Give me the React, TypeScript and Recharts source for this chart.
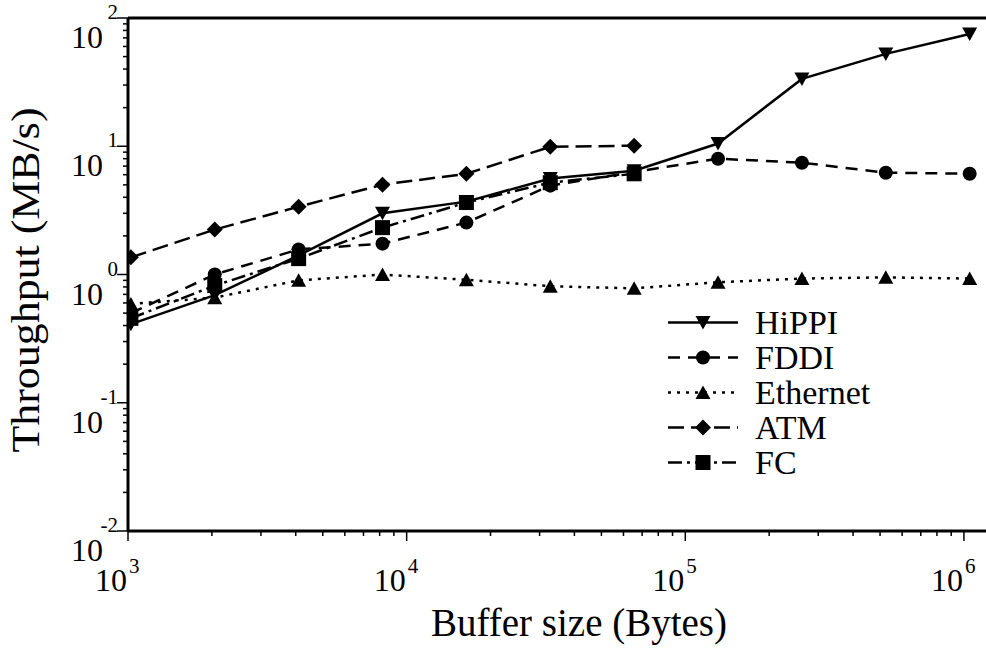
import React from 'react';
import { LineChart, Line, XAxis, YAxis, Legend, ReferenceLine } from 'recharts';

const FONT = '"Liberation Serif", "Times New Roman", serif';

// buffer sizes in bytes
const SIZES = [1024, 2048, 4096, 8192, 16384, 32768, 65536, 131072, 262144, 524288, 1048576];
// throughput in MB/s
const HIPPI = [0.41, 0.69, 1.41, 3.0, 3.7, 5.6, 6.45, 10.5, 33.5, 52.5, 75];
const FDDI = [0.5, 1.0, 1.57, 1.74, 2.54, 4.93, 6.3, 8.0, 7.44, 6.22, 6.1];
const ETHERNET = [0.59, 0.66, 0.9, 1.0, 0.91, 0.81, 0.78, 0.87, 0.93, 0.95, 0.93];
const ATM = [1.36, 2.24, 3.38, 5.02, 6.1, 9.9, 10.1, null, null, null, null];
const FC = [0.455, 0.82, 1.33, 2.32, 3.64, 5.2, 6.1, null, null, null, null];

const X_MAX = 1.2e6;
const X_DECADES = [3, 4, 5, 6];
const Y_DECADES = [-2, -1, 0, 1];

const X_TICKS: number[] = [];
X_DECADES.forEach((d) => {
  for (let m = 1; m <= 9; m++) {
    const v = m * Math.pow(10, d);
    if (v <= X_MAX) X_TICKS.push(v);
  }
});
const Y_TICKS: number[] = [];
Y_DECADES.forEach((d) => {
  for (let m = 1; m <= 9; m++) Y_TICKS.push(m * Math.pow(10, d));
});
Y_TICKS.push(100);

const data = SIZES.map((size, i) => ({
  size,
  hippi: HIPPI[i],
  fddi: FDDI[i],
  ethernet: ETHERNET[i],
  atm: ATM[i],
  fc: FC[i],
}));

type Shape = 'down' | 'circle' | 'up' | 'diamond' | 'square';

const SERIES: { key: string; name: string; shape: Shape; dash?: string }[] = [
  { key: 'hippi', name: 'HiPPI', shape: 'down' },
  { key: 'fddi', name: 'FDDI', shape: 'circle', dash: '12 8' },
  { key: 'ethernet', name: 'Ethernet', shape: 'up', dash: '3 6' },
  { key: 'atm', name: 'ATM', shape: 'diamond', dash: '16 7' },
  { key: 'fc', name: 'FC', shape: 'square', dash: '14 5 3 5' },
];

function Marker({ shape, cx, cy }: { shape: Shape; cx: number; cy: number }) {
  switch (shape) {
    case 'down':
      return <polygon points={`${cx - 7.5},${cy - 6.5} ${cx + 7.5},${cy - 6.5} ${cx},${cy + 7}`} fill="#000" />;
    case 'up':
      return <polygon points={`${cx - 7.5},${cy + 6.5} ${cx + 7.5},${cy + 6.5} ${cx},${cy - 7}`} fill="#000" />;
    case 'circle':
      return <circle cx={cx} cy={cy} r={7} fill="#000" />;
    case 'diamond':
      return <polygon points={`${cx},${cy - 8} ${cx + 8},${cy} ${cx},${cy + 8} ${cx - 8},${cy}`} fill="#000" />;
    default:
      return <rect x={cx - 7.5} y={cy - 7.5} width={15} height={15} fill="#000" />;
  }
}

const XTick = (props: any) => {
  const { x, y, payload } = props;
  const lg = Math.log10(payload.value);
  const e = Math.round(lg);
  const major = Math.abs(lg - e) < 1e-6;
  return (
    <g>
      <line x1={x} x2={x} y1={y} y2={y + (major ? 10 : 5)} stroke="#000" strokeWidth={1.5} />
      {major && (
        <text x={x - 1} y={y + 60} textAnchor="end" fontSize={32} fontFamily={FONT} fill="#000">10</text>
      )}
      {major && (
        <text x={x + 1} y={y + 42} textAnchor="start" fontSize={21} fontFamily={FONT} fill="#000">{e}</text>
      )}
    </g>
  );
};

const YTick = (props: any) => {
  const { x, y, payload } = props;
  const lg = Math.log10(payload.value);
  const e = Math.round(lg);
  const major = Math.abs(lg - e) < 1e-6;
  return (
    <g>
      <line x1={x} x2={x - (major ? 11 : 5)} y1={y} y2={y} stroke="#000" strokeWidth={1.5} />
      {major && (
        <text x={x - 25} y={y + 30} textAnchor="end" fontSize={32} fontFamily={FONT} fill="#000">10</text>
      )}
      {major && (
        <text x={x - 10} y={y + 1} textAnchor="end" fontSize={21} fontFamily={FONT} fill="#000">{e}</text>
      )}
    </g>
  );
};

const XTitle = () => (
  <text x={579} y={636} textAnchor="middle" fontSize={39} fontFamily={FONT} fill="#000">
    Buffer size (Bytes)
  </text>
);

const YTitle = () => (
  <text
    transform="translate(39,280) rotate(-90)"
    textAnchor="middle"
    fontSize={39}
    fontFamily={FONT}
    fill="#000"
    textLength={345}
    lengthAdjust="spacingAndGlyphs"
  >
    Throughput (MB/s)
  </text>
);

const LegendBox = () => (
  <div style={{ fontFamily: FONT, fontSize: 34, color: '#000' }}>
    {SERIES.map((s) => (
      <div key={s.key} style={{ display: 'flex', alignItems: 'center', height: 35 }}>
        <svg width={95} height={35}>
          <line x1={8} x2={78} y1={17.5} y2={17.5} stroke="#000" strokeWidth={2.5} strokeDasharray={s.dash} />
          <Marker shape={s.shape} cx={43} cy={17.5} />
        </svg>
        <span style={{ lineHeight: '35px' }}>{s.name}</span>
      </div>
    ))}
  </div>
);

export default function App() {
  return (
    <div style={{ position: 'absolute', left: 0, top: 0, width: 986, height: 651, background: '#fff' }}>
      <LineChart width={986} height={651} data={data} margin={{ top: 18, right: 0, bottom: 0, left: 0 }}>
        <XAxis
          type="number"
          dataKey="size"
          scale="log"
          domain={[1000, X_MAX]}
          allowDataOverflow
          ticks={X_TICKS}
          interval={0}
          tick={<XTick />}
          tickLine={false}
          tickSize={0}
          tickMargin={0}
          axisLine={{ stroke: '#000', strokeWidth: 3 }}
          height={120}
          label={<XTitle />}
        />
        <YAxis
          type="number"
          scale="log"
          domain={[0.01, 100]}
          allowDataOverflow
          ticks={Y_TICKS}
          interval={0}
          tick={<YTick />}
          tickLine={false}
          tickSize={0}
          tickMargin={0}
          axisLine={{ stroke: '#000', strokeWidth: 3 }}
          width={128}
          label={<YTitle />}
        />
        <ReferenceLine y={100} stroke="#000" strokeWidth={3} />
        {SERIES.map((s) => (
          <Line
            key={s.key}
            dataKey={s.key}
            name={s.name}
            stroke="#000"
            strokeWidth={2.5}
            strokeDasharray={s.dash}
            isAnimationActive={false}
            dot={(p: any) =>
              p.cx == null || p.cy == null || p.value == null ? (
                <g key={p.index} />
              ) : (
                <Marker key={p.index} shape={s.shape} cx={p.cx} cy={p.cy} />
              )
            }
          />
        ))}
        <Legend
          layout="vertical"
          align="center"
          verticalAlign="middle"
          content={<LegendBox />}
          wrapperStyle={{ left: 660, top: 305, width: 260 }}
        />
      </LineChart>
    </div>
  );
}
